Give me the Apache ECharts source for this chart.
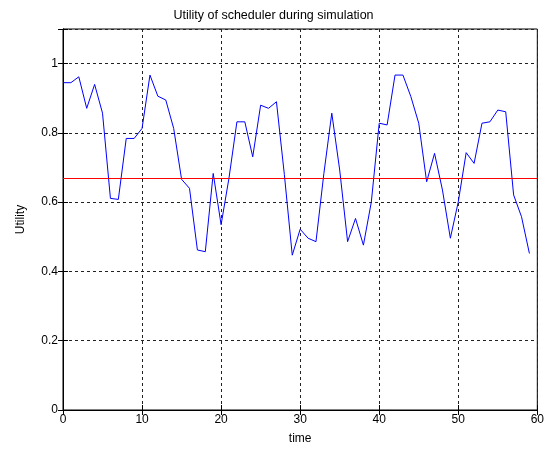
<!DOCTYPE html>
<html>
<head>
<meta charset="utf-8">
<script src="https://cdn.jsdelivr.net/npm/echarts@6/dist/echarts.min.js"></script>
<style>
	html, body { margin: 0; padding: 0; background: #fff; }
	#chart { width: 547px; height: 453px; }
</style>
</head>
<body>
<div id="chart"></div>
<script>
	// time steps 0..59
	var times = [];
	for (var t = 0; t < 60; t++) times.push(t);

	// utility
	var utility = [
		0.945, 0.945, 0.962, 0.871, 0.940, 0.857, 0.611, 0.608, 0.784, 0.784,
		0.813, 0.967, 0.906, 0.895, 0.813, 0.666, 0.640, 0.462, 0.457, 0.683,
		0.535, 0.670, 0.832, 0.832, 0.731, 0.880, 0.871, 0.890, 0.680, 0.447,
		0.522, 0.496, 0.486, 0.683, 0.857, 0.693, 0.486, 0.553, 0.476, 0.600,
		0.828, 0.823, 0.967, 0.967, 0.905, 0.828, 0.659, 0.741, 0.635, 0.496,
		0.601, 0.743, 0.712, 0.828, 0.832, 0.866, 0.861, 0.621, 0.558, 0.452
	];

	// mean utility (red line)
	var meanUtility = 0.668;

	var xTicks = [0, 10, 20, 30, 40, 50, 60];
	var yTicks = [0, 0.2, 0.4, 0.6, 0.8, 1];

	var data = [];
	for (var i = 0; i < times.length; i++) {
		data.push([times[i], utility[i]]);
	}

	var font = 'Liberation Sans, Arial, sans-serif';
	var gridLine = { show: true, lineStyle: { color: '#222', type: [3, 3], width: 1 } };

	var myChart = echarts.init(document.getElementById('chart'));
	var option = {
		backgroundColor: '#fff',
		animation: false,
		title: {
			text: 'Utility of scheduler during simulation',
			left: 'center',
			top: 4,
			textStyle: { fontFamily: font, fontSize: 12.5, fontWeight: 'normal', color: '#000' }
		},
		grid: {
			left: 63, right: 6, top: 29, bottom: 43,
			show: true, borderColor: '#000', borderWidth: 1, backgroundColor: '#fff'
		},
		xAxis: [{
			type: 'value',
			min: xTicks[0],
			max: xTicks[xTicks.length - 1],
			interval: 10,
			name: 'time',
			nameLocation: 'middle',
			nameGap: 23,
			nameTextStyle: { fontFamily: font, fontSize: 12, color: '#000' },
			axisLine: { show: true, lineStyle: { color: '#000' } },
			axisTick: { show: true, inside: true, length: 5, lineStyle: { color: '#000' } },
			axisLabel: { fontFamily: font, fontSize: 12, color: '#000', margin: 4 },
			splitLine: gridLine
		}, {
			type: 'value',
			position: 'top',
			min: xTicks[0],
			max: xTicks[xTicks.length - 1],
			interval: 10,
			axisLine: { show: true, lineStyle: { color: '#000' } },
			axisTick: { show: true, inside: true, length: 5, lineStyle: { color: '#000' } },
			axisLabel: { show: false },
			splitLine: { show: false }
		}],
		yAxis: [{
			type: 'value',
			min: 0,
			max: 1.1,
			interval: 0.2,
			name: 'Utility',
			nameLocation: 'middle',
			nameGap: 36,
			nameTextStyle: { fontFamily: font, fontSize: 12, color: '#000' },
			axisLine: { show: true, lineStyle: { color: '#000' } },
			axisTick: { show: true, inside: true, length: 5, lineStyle: { color: '#000' } },
			axisLabel: {
				fontFamily: font, fontSize: 12, color: '#000', margin: 5,
				formatter: function(v) {
					return v > 1.05 ? '' : String(Math.round(v * 10) / 10);
				}
			},
			splitLine: gridLine
		}, {
			type: 'value',
			position: 'right',
			min: 0,
			max: 1.1,
			interval: 0.2,
			axisLine: { show: true, lineStyle: { color: '#000' } },
			axisTick: { show: true, inside: true, length: 5, lineStyle: { color: '#000' } },
			axisLabel: { show: false },
			splitLine: { show: false }
		}],
		series: [{
			name: 'utility',
			type: 'line',
			data: data,
			showSymbol: false,
			lineStyle: { color: '#0000ff', width: 1 },
			markLine: {
				silent: true,
				symbol: 'none',
				label: { show: false },
				lineStyle: { color: '#ff0000', type: 'solid', width: 1 },
				data: [{ yAxis: meanUtility }]
			}
		}]
	};
	myChart.setOption(option);
</script>
</body>
</html>
